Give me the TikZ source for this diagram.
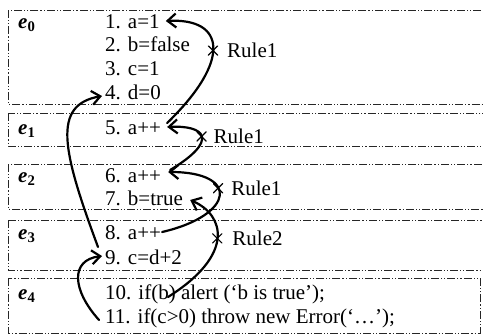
\documentclass[tikz,border=0pt]{standalone}
\usepackage{fontspec}
\setmainfont{Liberation Serif}
\usetikzlibrary{arrows.meta,shapes.misc}
\begin{document}
\begin{tikzpicture}[x=1pt,y=-1pt,
  txt/.style={anchor=base west, inner sep=0pt, font=\fontsize{21}{24}\selectfont},
  rule/.style={anchor=west, inner sep=0pt, font=\fontsize{21}{24}\selectfont},
  frame/.style={draw=black!85, line width=0.9pt, dash pattern=on 8pt off 2pt on 1.2pt off 2pt on 1.2pt off 2pt},
  link/.style={line width=2.2pt, line cap=round, -{Straight Barb[length=8.5pt,width=14pt]}},
  cross/.style={cross out, draw, line width=1.2pt, minimum size=8pt, inner sep=0pt, solid},
  elab/.style={anchor=base west, inner sep=0pt, font=\fontsize{21}{24}\selectfont\bfseries\itshape}]
\useasboundingbox (0,0) rectangle (483,335);
\clip (0,0) rectangle (483,335);
% frames
\draw[frame] (8,10) rectangle (495,104);
\draw[frame] (8,113) rectangle (495,146);
\draw[frame] (8,164) rectangle (495,209);
\draw[frame] (8,220) rectangle (495,270);
\draw[frame] (8,278) rectangle (480,333);
% environment labels
\node[elab] (e0) at (18,28) {e\textsubscript{\upshape 0}};
\node[elab] (e1) at (18,134) {e\textsubscript{\upshape 1}};
\node[elab] (e2) at (18,182) {e\textsubscript{\upshape 2}};
\node[elab] (e3) at (18,239) {e\textsubscript{\upshape 3}};
\node[elab] (e4) at (18,299) {e\textsubscript{\upshape 4}};
% statements
\node[txt] (l1) at (105,28) {1. a=1};
\node[txt] (l2) at (105,51) {2. b=false};
\node[txt] (l3) at (105,75) {3. c=1};
\node[txt] (l4) at (105,99) {4. d=0};
\node[txt] (l5) at (105,134) {5. a++};
\node[txt] (l6) at (105,182) {6. a++};
\node[txt] (l7) at (105,205) {7. b=true};
\node[txt] (l8) at (105,239) {8. a++};
\node[txt] (l9) at (105,264) {9. c=d+2};
\node[txt] (l10) at (105,299) {10. if(b) alert (‘b is true’);};
\node[txt] (l11) at (105,323) {11. if(c>0) throw new Error(‘…’);};
% arrows with rule marks on them
\draw[link] ([shift={(6,-11)}]l5.base east) .. controls (232,60) and (225,18) .. node[cross, pos=0.47] (x1) {} ([shift={(6,-7)}]l1.base east);
\draw[link] ([shift={(9,-12)}]l6.base east) .. controls (220,140) and (205,125) .. node[cross, pos=0.5] (x2) {} ([shift={(6,-7)}]l5.base east);
\draw[link] ([shift={(1,-7)}]l8.base east) .. controls (235,215) and (240,172) .. node[cross, pos=0.6] (x3) {} ([shift={(7,-10)}]l6.base east);
\draw[link] ([shift={(63,-2)}]l10.base west) .. controls (235,255) and (225,215) .. node[cross, pos=0.5] (x4) {} ([shift={(7,-5)}]l7.base east);
\draw[link] ([shift={(-7,-17)}]l9.base west) .. controls (62,150) and (52,105) .. ([shift={(-3,-3)}]l4.base west);
\draw[link] ([shift={(-6,-3)}]l11.base west) .. controls (72,290) and (70,260) .. ([shift={(-3,-8)}]l9.base west);
% rule labels
\node[rule] (r1) at ([xshift=14pt]x1.center) {Rule1};
\node[rule] (r2) at ([xshift=12pt]x2.center) {Rule1};
\node[rule] (r3) at ([xshift=13pt]x3.center) {Rule1};
\node[rule] (r4) at ([xshift=15pt]x4.center) {Rule2};
\end{tikzpicture}
\end{document}
